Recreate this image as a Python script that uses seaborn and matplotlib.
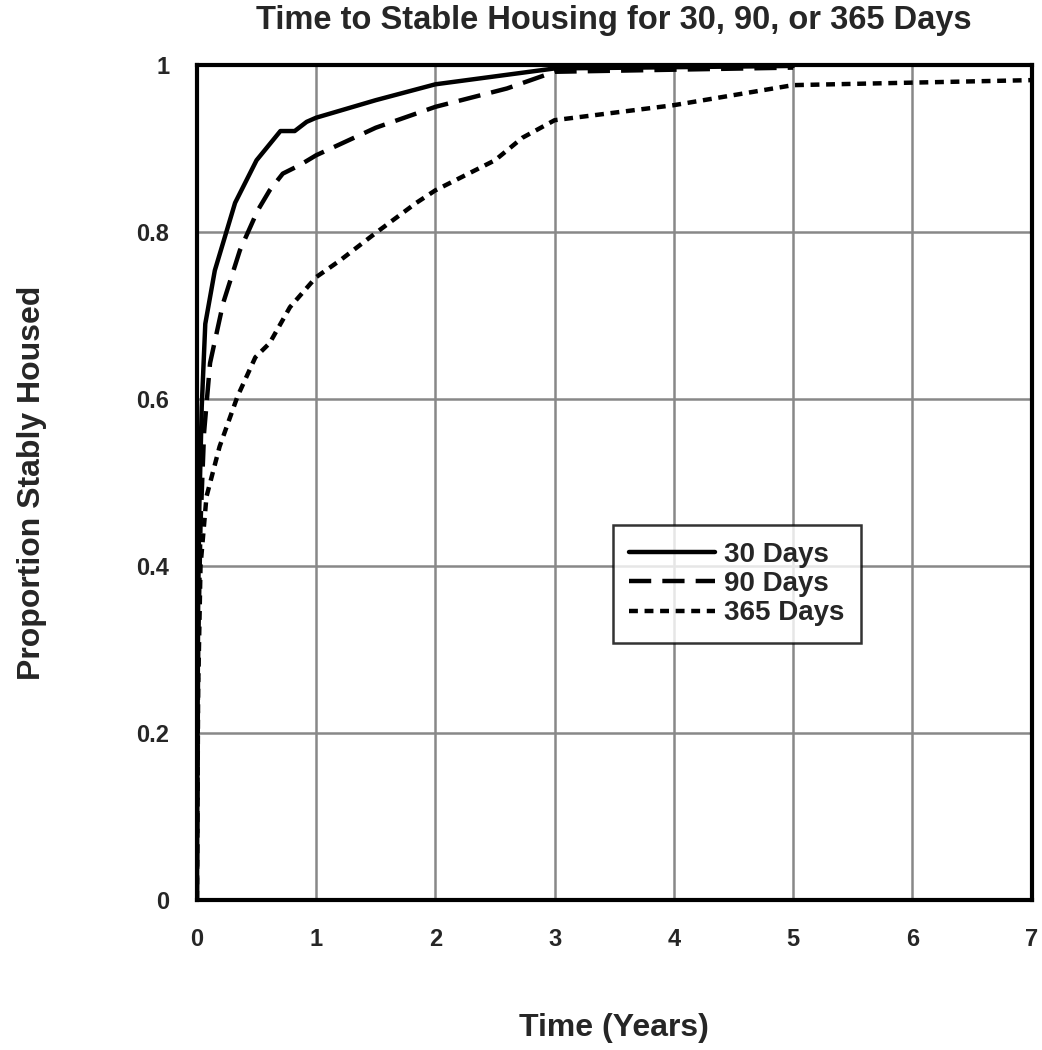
import numpy as np
import pandas as pd
import seaborn as sns
import matplotlib.pyplot as plt

# curves (time in years, proportion housed)
t_30 = [0, 0.005, 0.01, 0.02, 0.04, 0.07, 0.15, 0.32, 0.50, 0.70, 0.82, 0.92, 1.0, 1.5, 2.0, 3.0, 5.0]
p_30 = [0, 0.20, 0.35, 0.47, 0.59, 0.69, 0.754, 0.835, 0.886, 0.921, 0.921, 0.932, 0.937, 0.958, 0.977, 0.996, 0.999]

t_90 = [0, 0.005, 0.01, 0.03, 0.06, 0.11, 0.22, 0.36, 0.51, 0.61, 0.72, 0.86, 1.0, 1.5, 2.0, 2.6, 3.0, 5.0]
p_90 = [0, 0.15, 0.30, 0.45, 0.56, 0.643, 0.715, 0.778, 0.826, 0.85, 0.87, 0.88, 0.892, 0.925, 0.95, 0.972, 0.992, 0.997]

t_365 = [0, 0.005, 0.01, 0.03, 0.08, 0.19, 0.30, 0.34, 0.49, 0.61, 0.78, 1.0, 1.2, 1.5, 1.84, 2.0, 2.5, 2.73, 3.0, 4.0, 5.0, 6.0, 7.0]
p_365 = [0, 0.12, 0.25, 0.40, 0.483, 0.543, 0.587, 0.603, 0.65, 0.667, 0.71, 0.746, 0.766, 0.799, 0.835, 0.85, 0.886, 0.913, 0.934, 0.952, 0.976, 0.979, 0.982]

groups = ['30 Days', '90 Days', '365 Days']

df = pd.concat([
    pd.DataFrame({'Time': t_30, 'Prop': p_30, 'Group': groups[0]}),
    pd.DataFrame({'Time': t_90, 'Prop': p_90, 'Group': groups[1]}),
    pd.DataFrame({'Time': t_365, 'Prop': p_365, 'Group': groups[2]}),
])

sns.set_theme(style="white")
plt.rcParams['font.family'] = ['Liberation Sans', 'DejaVu Sans']
plt.rcParams['font.weight'] = 'bold'

fig = plt.figure(figsize=(10.42, 10.5), dpi=100)
ax = fig.add_axes([0.189, 0.143, 0.801, 0.795])

sns.lineplot(
    data=df, x='Time', y='Prop', style='Group', style_order=groups,
    dashes={'30 Days': '', '90 Days': (5, 2.5), '365 Days': (2.0, 1.5)},
    color='black', linewidth=3.2, sort=False, estimator=None, ax=ax
)

ax.set_xlim(0, 7)
ax.set_ylim(0, 1)
ax.set_xticks(range(8))
ax.set_yticks([0, 0.2, 0.4, 0.6, 0.8, 1.0])
ax.set_yticklabels(['0', '0.2', '0.4', '0.6', '0.8', '1'])
ax.tick_params(length=0, pad=20, labelsize=17)
for lab in ax.get_xticklabels() + ax.get_yticklabels():
    lab.set_fontweight('bold')

ax.grid(True, color='#888888', linewidth=1.8)
ax.set_axisbelow(True)
for s in ax.spines.values():
    s.set_color('black')
    s.set_linewidth(3)

ax.set_title('Time to Stable Housing for 30, 90, or 365 Days', fontsize=23.5, fontweight='bold', pad=26)
ax.set_xlabel('Time (Years)', fontsize=23, fontweight='bold', labelpad=45)
ax.set_ylabel('Proportion Stably Housed', fontsize=23, fontweight='bold', labelpad=64)

leg = ax.legend(loc='upper left', bbox_to_anchor=(0.498, 0.449),
                frameon=True, fancybox=False, edgecolor='black', handlelength=3.1,
                prop={'size': 20, 'weight': 'bold'}, borderpad=0.6, labelspacing=0.12,
                handletextpad=0.3, borderaxespad=0)
leg.get_frame().set_linewidth(1.8)

fig.savefig('out.png', dpi=100, facecolor='white')
